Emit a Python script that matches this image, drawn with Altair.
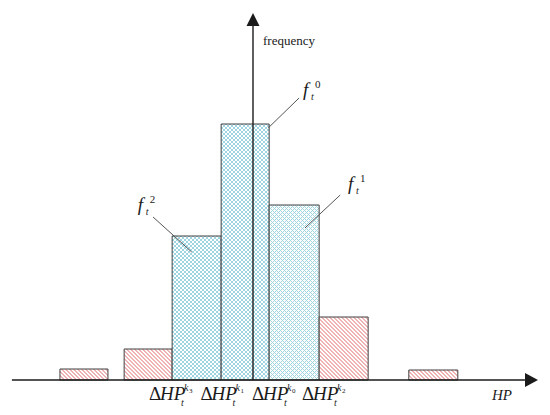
import altair as alt
import pandas as pd

# ---------------- data ----------------
bin_left = [-3.94, -2.63, -1.65, -0.65, 0.33, 1.35, 3.18]
bin_right = [-2.96, -1.65, -0.65, 0.33, 1.35, 2.35, 4.18]
freq = [1.1, 3.1, 14.4, 25.6, 17.5, 6.3, 1.0]
kind = ["tail", "tail", "core", "core", "core", "tail", "tail"]

tick_pos = [-2.12, -1.07, -0.02, 1.0]
tick_k = ["3", "1", "0", "2"]

f_sup = ["0", "1", "2"]
f_x = [1.02, 1.94, -2.35]
f_y = [28.4, 19.0, 16.9]
lead_x = [0.94, 1.78, -2.04]
lead_y = [28.2, 18.5, 16.3]
lead_x2 = [0.31, 1.06, -1.25]
lead_y2 = [25.2, 15.2, 12.8]

x_axis_from, x_axis_to = -4.92, 5.55
y_axis_to = 35.4
x_arrow_at = 5.684
y_arrow_at = 36.05

freq_label_x, freq_label_y = 0.204, 33.5
hp_label_x, hp_label_y = 4.878, -2.0
tick_label_y = -2.0

# ---------------- layout ----------------
X_DOMAIN = [-5.0, 5.898]
Y_DOMAIN = [-2.7, 37.2]
W, H = 534, 399
PX_X = W / (X_DOMAIN[1] - X_DOMAIN[0])
PX_Y = H / (Y_DOMAIN[1] - Y_DOMAIN[0])

xs = alt.Scale(domain=X_DOMAIN, nice=False, zero=False)
ys = alt.Scale(domain=Y_DOMAIN, nice=False, zero=False)

SERIF = "Liberation Serif"
INK = "#1a1a1a"


def stripes(w, h, direction, line, bg, period, lw):
    L = w + h
    k = L / (w * w + h * h)
    if direction == "back":  # "\" lines
        x1, y1, x2, y2 = 0, 1, k * w, 1 - k * h
    else:  # "/" lines
        x1, y1, x2, y2 = 0, 0, k * w, k * h
    stops = []
    n = 0
    while n * period < L:
        s = round(n * period / L, 6)
        e = round(min((n * period + lw) / L, 1.0), 6)
        stops += [
            {"offset": s, "color": bg},
            {"offset": s, "color": line},
            {"offset": e, "color": line},
            {"offset": e, "color": bg},
        ]
        n += 1
    stops.append({"offset": 1, "color": bg})
    return {"gradient": "linear", "stops": stops,
            "x1": x1, "y1": y1, "x2": round(x2, 6), "y2": round(y2, 6)}


layers = []
for i in range(len(freq)):
    d = pd.DataFrame({"x0": [bin_left[i]], "x1": [bin_right[i]],
                      "y0": [0.0], "y1": [freq[i]]})
    w = (bin_right[i] - bin_left[i]) * PX_X
    h = freq[i] * PX_Y
    enc = dict(x=alt.X("x0:Q", scale=xs, axis=None),
               x2="x1:Q",
               y=alt.Y("y0:Q", scale=ys, axis=None),
               y2="y1:Q")
    if kind[i] == "core":
        g1 = stripes(w, h, "back", "#9fd5e0", "#ffffff", 4.0, 1.3)
        g2 = stripes(w, h, "fwd", "#9fd5e0", "rgba(255,255,255,0)", 4.0, 1.3)
        layers.append(alt.Chart(d).mark_rect(fill=g1, strokeWidth=0).encode(**enc))
        layers.append(alt.Chart(d).mark_rect(fill=g2, stroke="#404040",
                                             strokeWidth=1).encode(**enc))
    else:
        g1 = stripes(w, h, "back", "#f0b3b3", "#ffffff", 4.0, 2.0)
        layers.append(alt.Chart(d).mark_rect(fill=g1, stroke="#404040",
                                             strokeWidth=1).encode(**enc))

# axes
axes_df = pd.DataFrame({
    "x": [x_axis_from, 0.0], "x2": [x_axis_to, 0.0],
    "y": [0.0, 0.0], "y2": [0.0, y_axis_to]})
layers.append(alt.Chart(axes_df).mark_rule(color=INK, strokeWidth=1.4).encode(
    x=alt.X("x:Q", scale=xs, axis=None), x2="x2:Q",
    y=alt.Y("y:Q", scale=ys, axis=None), y2="y2:Q"))

arrow_h = pd.DataFrame({"x": [x_arrow_at], "y": [0.0]})
layers.append(alt.Chart(arrow_h).mark_point(
    shape="M-1,-1.08L1,0L-1,1.08Z", filled=True, size=169, color=INK, opacity=1
).encode(x=alt.X("x:Q", scale=xs, axis=None), y=alt.Y("y:Q", scale=ys, axis=None)))

arrow_v = pd.DataFrame({"x": [0.0], "y": [y_arrow_at]})
layers.append(alt.Chart(arrow_v).mark_point(
    shape="M-1,1L0,-1L1,1Z", filled=True, size=169, color=INK, opacity=1
).encode(x=alt.X("x:Q", scale=xs, axis=None), y=alt.Y("y:Q", scale=ys, axis=None)))

# leader lines
lead_df = pd.DataFrame({"x": lead_x, "y": lead_y, "x2": lead_x2, "y2": lead_y2})
layers.append(alt.Chart(lead_df).mark_rule(color="#555555", strokeWidth=1).encode(
    x=alt.X("x:Q", scale=xs, axis=None), x2="x2:Q",
    y=alt.Y("y:Q", scale=ys, axis=None), y2="y2:Q"))

# f labels
f_df = pd.DataFrame({"x": f_x, "y": f_y, "sup": f_sup})
fenc = dict(x=alt.X("x:Q", scale=xs, axis=None), y=alt.Y("y:Q", scale=ys, axis=None))
layers.append(alt.Chart(f_df).mark_text(
    text="f", font=SERIF, fontSize=19, fontStyle="italic", align="left",
    baseline="alphabetic", color=INK).encode(**fenc))
layers.append(alt.Chart(f_df).mark_text(
    text="t", font=SERIF, fontSize=10, fontStyle="italic", align="left",
    baseline="alphabetic", dx=8, dy=4, color=INK).encode(**fenc))
layers.append(alt.Chart(f_df).mark_text(
    font=SERIF, fontSize=11, align="left", baseline="alphabetic",
    dx=12, dy=-8, color=INK).encode(text="sup:N", **fenc))

# tick labels  ΔHP_t^{k_i}
t_df = pd.DataFrame({"x": tick_pos, "y": [tick_label_y] * len(tick_pos), "k": tick_k})
tenc = dict(x=alt.X("x:Q", scale=xs, axis=None), y=alt.Y("y:Q", scale=ys, axis=None))
layers.append(alt.Chart(t_df).mark_text(
    text="Δ", font=SERIF, fontSize=19, align="left", baseline="alphabetic",
    color=INK).encode(**tenc))
layers.append(alt.Chart(t_df).mark_text(
    text="HP", font=SERIF, fontSize=19, fontStyle="italic", align="left",
    baseline="alphabetic", dx=11, color=INK).encode(**tenc))
layers.append(alt.Chart(t_df).mark_text(
    text="t", font=SERIF, fontSize=10, fontStyle="italic", align="left",
    baseline="alphabetic", dx=32, dy=6, color=INK).encode(**tenc))
layers.append(alt.Chart(t_df).mark_text(
    text="k", font=SERIF, fontSize=10, fontStyle="italic", align="left",
    baseline="alphabetic", dx=35, dy=-9, color=INK).encode(**tenc))
layers.append(alt.Chart(t_df).mark_text(
    font=SERIF, fontSize=7, align="left", baseline="alphabetic",
    dx=40, dy=-7, color=INK).encode(text="k:N", **tenc))

# axis titles
ft_df = pd.DataFrame({"x": [freq_label_x], "y": [freq_label_y], "t": ["frequency"]})
layers.append(alt.Chart(ft_df).mark_text(
    font=SERIF, fontSize=13, align="left", baseline="alphabetic", color=INK
).encode(x=alt.X("x:Q", scale=xs, axis=None), y=alt.Y("y:Q", scale=ys, axis=None),
         text="t:N"))

hp_df = pd.DataFrame({"x": [hp_label_x], "y": [hp_label_y], "t": ["HP"]})
layers.append(alt.Chart(hp_df).mark_text(
    font=SERIF, fontSize=15, fontStyle="italic", align="left",
    baseline="alphabetic", color=INK
).encode(x=alt.X("x:Q", scale=xs, axis=None), y=alt.Y("y:Q", scale=ys, axis=None),
         text="t:N"))

chart = alt.layer(*layers).properties(
    width=W, height=H, padding=0,
    autosize=alt.AutoSizeParams(type="none"),
    background="white",
).configure_view(strokeWidth=0)

chart.save("out.html", embed_options={"renderer": "svg", "actions": False})
